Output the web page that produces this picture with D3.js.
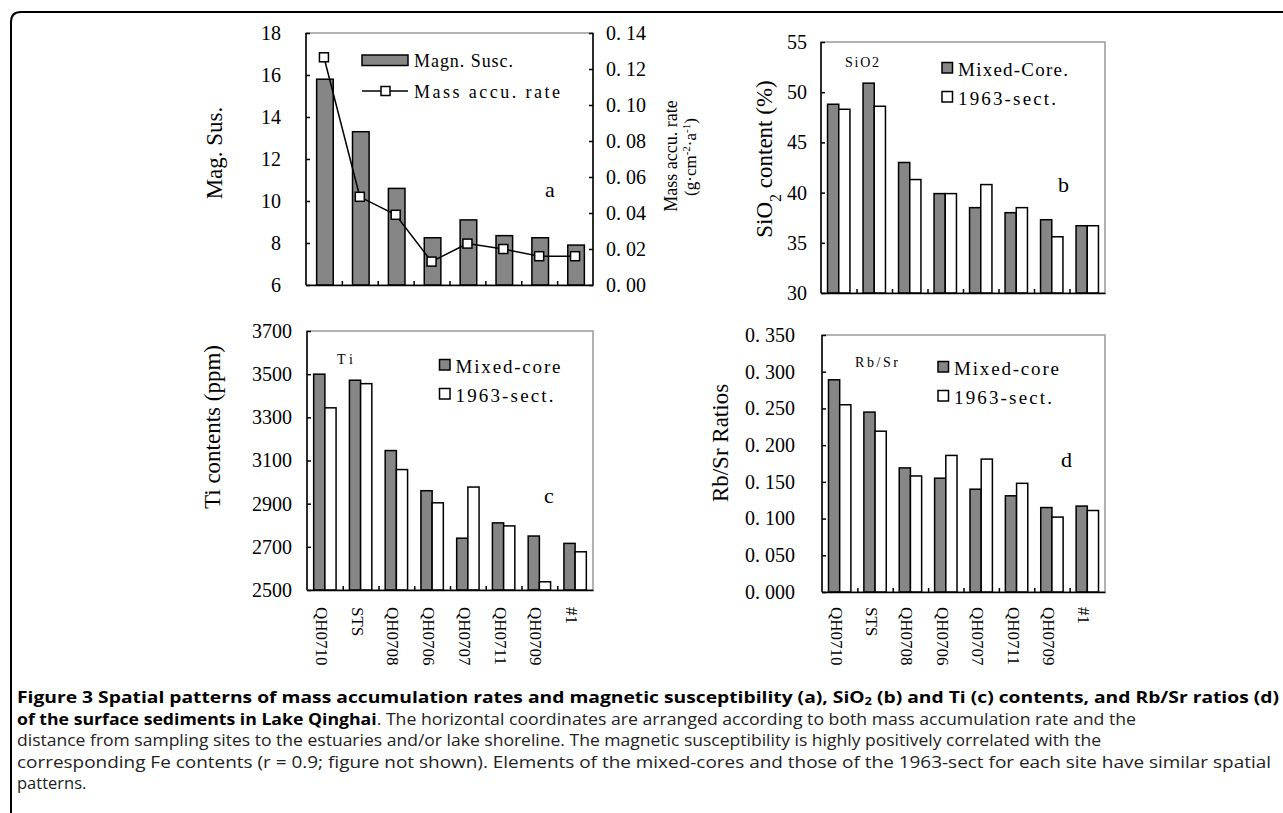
<!DOCTYPE html>
<html>
<head>
<meta charset="utf-8">
<script src="https://cdn.jsdelivr.net/npm/d3@7"></script>
<style>
  body { margin: 0; background: #fff; }
  svg { display: block; }
</style>
</head>
<body>
<div id="figure"></div>
<script>
// sampling sites, ordered by mass accumulation rate / distance to shore
const sites = ['QH0710', 'STS', 'QH0708', 'QH0706', 'QH0707', 'QH0711', 'QH0709', '#1'];

// panel a
const magSus = [15.8, 13.3, 10.6, 8.25, 9.1, 8.35, 8.25, 7.9];
const massAccuRate = [0.1265, 0.049, 0.039, 0.013, 0.023, 0.020, 0.016, 0.016];
const magSusTicks = [6, 8, 10, 12, 14, 16, 18];
const massRateTicks = [0, 0.02, 0.04, 0.06, 0.08, 0.10, 0.12, 0.14];

// panel b
const sio2Mixed = [48.8, 50.9, 43.0, 39.9, 38.5, 38.0, 37.3, 36.7];
const sio2Sect = [48.3, 48.6, 41.3, 39.9, 40.8, 38.5, 35.6, 36.7];
const sio2Ticks = [30, 35, 40, 45, 50, 55];

// panel c
const tiMixed = [3500, 3472, 3146, 2960, 2740, 2811, 2750, 2716];
const tiSect = [3344, 3456, 3058, 2904, 2977, 2797, 2538, 2677];
const tiTicks = [2500, 2700, 2900, 3100, 3300, 3500, 3700];

// panel d
const rbsrMixed = [0.289, 0.245, 0.169, 0.155, 0.140, 0.131, 0.115, 0.117];
const rbsrSect = [0.255, 0.219, 0.158, 0.186, 0.181, 0.148, 0.102, 0.111];
const rbsrTicks = [0, 0.05, 0.10, 0.15, 0.20, 0.25, 0.30, 0.35];

const serif = '"Liberation Serif", "DejaVu Serif", serif';
const sans = '"Open Sans", "Noto Sans", sans-serif';
const barFill = '#868686';

const svg = d3.select('#figure')
  .append('svg')
  .attr('width', 1283)
  .attr('height', 813);

// page frame
svg.append('path')
  .attr('d', 'M11,813 V22 Q11,12 21,12 H1283')
  .attr('fill', 'none')
  .attr('stroke', '#000')
  .attr('stroke-width', 2);

// "0.14" -> "0. 14", like the original axis font
const spacedFmt = digits => v => d3.format(`.${digits}f`)(v).replace('.', '. ');

// text in the wide, evenly spaced look of the original labels
function wideText(g, x, y, txt, size, len) {
  return g.append('text')
    .attr('x', x).attr('y', y)
    .attr('font-family', serif)
    .attr('font-size', size)
    .attr('textLength', len)
    .attr('lengthAdjust', 'spacing')
    .text(txt);
}

function makePanel(box, yDomain) {
  const g = svg.append('g');
  const x = d3.scaleBand().domain(sites).range([box.x0, box.x1]);
  const y = d3.scaleLinear().domain(yDomain).range([box.y1, box.y0]);

  g.append('rect')
    .attr('x', box.x0)
    .attr('y', box.y0)
    .attr('width', box.x1 - box.x0)
    .attr('height', box.y1 - box.y0)
    .attr('fill', 'none')
    .attr('stroke', '#999')
    .attr('stroke-width', 1.5);

  return { g, x, y, box };
}

function styleAxis(sel) {
  sel.selectAll('path, line').attr('stroke', '#000').attr('stroke-width', 1.5);
  sel.selectAll('text')
    .attr('font-family', serif)
    .attr('font-size', 20)
    .attr('fill', '#000');
}

function leftAxis(p, ticks, fmt, gap) {
  p.g.append('g')
    .attr('transform', `translate(${p.box.x0},0)`)
    .call(d3.axisLeft(p.y).tickValues(ticks).tickFormat(fmt)
      .tickSize(-4).tickSizeOuter(0).tickPadding(gap))
    .call(s => s.select('.domain').remove())
    .call(styleAxis);
  p.g.append('line')
    .attr('x1', p.box.x0).attr('x2', p.box.x0)
    .attr('y1', p.box.y0).attr('y2', p.box.y1)
    .attr('stroke', '#000').attr('stroke-width', 1.5);
}

function bottomAxis(p) {
  const xl = d3.scaleLinear().domain([0, sites.length]).range([p.box.x0, p.box.x1]);
  p.g.append('g')
    .attr('transform', `translate(0,${p.box.y1})`)
    .call(d3.axisBottom(xl).tickValues(d3.range(1, sites.length))
      .tickFormat('').tickSize(-4).tickSizeOuter(0))
    .call(styleAxis);
}

function siteLabels(p, top) {
  p.g.selectAll('.site')
    .data(sites)
    .enter()
    .append('text')
    .attr('class', 'site')
    .attr('transform', d => `translate(${p.x(d) + p.x.bandwidth() / 2 - 3},${top}) rotate(90)`)
    .attr('dy', '0.35em')
    .attr('font-family', serif)
    .attr('font-size', 17)
    .text(d => d);
}

function pairedBars(p, mixed, sect, barW) {
  const bw = p.x.bandwidth();
  const rows = sites.map((s, i) => ({ site: s, mixed: mixed[i], sect: sect[i] }));
  p.g.selectAll('.bar-mixed')
    .data(rows)
    .enter()
    .append('rect')
    .attr('class', 'bar-mixed')
    .attr('x', d => p.x(d.site) + bw / 2 - barW)
    .attr('y', d => p.y(d.mixed))
    .attr('width', barW)
    .attr('height', d => p.box.y1 - p.y(d.mixed))
    .attr('fill', barFill)
    .attr('stroke', '#000')
    .attr('stroke-width', 1.5);
  p.g.selectAll('.bar-sect')
    .data(rows)
    .enter()
    .append('rect')
    .attr('class', 'bar-sect')
    .attr('x', d => p.x(d.site) + bw / 2)
    .attr('y', d => p.y(d.sect))
    .attr('width', barW)
    .attr('height', d => p.box.y1 - p.y(d.sect))
    .attr('fill', '#fff')
    .attr('stroke', '#000')
    .attr('stroke-width', 1.5);
}

function squareLegend(p, x, y, names, lens) {
  names.forEach((name, i) => {
    const yy = y + i * 29;
    p.g.append('rect')
      .attr('x', x).attr('y', yy - 10.5)
      .attr('width', 10.5).attr('height', 10.5)
      .attr('fill', i === 0 ? barFill : '#fff')
      .attr('stroke', '#000').attr('stroke-width', 1.5);
    wideText(p.g, x + 16, yy + 3, name, 19, lens[i]);
  });
}

function yTitle(cx, cy, size) {
  return svg.append('text')
    .attr('transform', `translate(${cx},${cy}) rotate(-90)`)
    .attr('text-anchor', 'middle')
    .attr('dy', '0.35em')
    .attr('font-family', serif)
    .attr('font-size', size);
}

function tag(p, x, y, txt) {
  p.g.append('text')
    .attr('x', x).attr('y', y)
    .attr('font-family', serif)
    .attr('font-size', 22)
    .text(txt);
}

// ---------- panel a ----------
const pa = makePanel({ x0: 306, x1: 593, y0: 33, y1: 285 }, [6, 18]);
const yRate = d3.scaleLinear().domain([0, 0.14]).range([285, 33]);
const aBarW = 16.6;

pa.g.selectAll('.bar-mag')
  .data(sites.map((s, i) => ({ site: s, v: magSus[i] })))
  .enter()
  .append('rect')
  .attr('class', 'bar-mag')
  .attr('x', d => pa.x(d.site) + pa.x.bandwidth() / 2 - aBarW / 2 + 1)
  .attr('y', d => pa.y(d.v))
  .attr('width', aBarW)
  .attr('height', d => 285 - pa.y(d.v))
  .attr('fill', barFill)
  .attr('stroke', '#000')
  .attr('stroke-width', 1.5);

leftAxis(pa, magSusTicks, d3.format('d'), 25);
bottomAxis(pa);

pa.g.append('g')
  .attr('transform', 'translate(593,0)')
  .call(d3.axisRight(yRate).tickValues(massRateTicks).tickFormat(spacedFmt(2))
    .tickSize(-4).tickSizeOuter(0).tickPadding(13))
  .call(s => s.select('.domain').remove())
  .call(styleAxis);
pa.g.append('line')
  .attr('x1', 593).attr('x2', 593).attr('y1', 33).attr('y2', 285)
  .attr('stroke', '#000').attr('stroke-width', 1.5);

const rateLine = d3.line()
  .x((d, i) => pa.x(sites[i]) + pa.x.bandwidth() / 2)
  .y(d => yRate(d));

pa.g.append('path')
  .attr('d', rateLine(massAccuRate))
  .attr('fill', 'none')
  .attr('stroke', '#000')
  .attr('stroke-width', 1.5);

pa.g.selectAll('.pt')
  .data(massAccuRate)
  .enter()
  .append('rect')
  .attr('class', 'pt')
  .attr('x', (d, i) => pa.x(sites[i]) + pa.x.bandwidth() / 2 - 4.5)
  .attr('y', d => yRate(d) - 4.5)
  .attr('width', 9)
  .attr('height', 9)
  .attr('fill', '#fff')
  .attr('stroke', '#000')
  .attr('stroke-width', 1.5);

// legend a
pa.g.append('rect')
  .attr('x', 362).attr('y', 55).attr('width', 46).attr('height', 10.5)
  .attr('fill', barFill).attr('stroke', '#000').attr('stroke-width', 1.5);
wideText(pa.g, 414, 67, 'Magn. Susc.', 18, 99);
pa.g.append('line')
  .attr('x1', 362).attr('x2', 408).attr('y1', 91).attr('y2', 91)
  .attr('stroke', '#000').attr('stroke-width', 1.5);
pa.g.append('rect')
  .attr('x', 381).attr('y', 86.5).attr('width', 9).attr('height', 9)
  .attr('fill', '#fff').attr('stroke', '#000').attr('stroke-width', 1.5);
wideText(pa.g, 414, 98, 'Mass accu. rate', 18, 146);

tag(pa, 545, 197, 'a');
yTitle(214, 153, 23).text('Mag. Sus.');
yTitle(671, 156, 18).text('Mass accu. rate');
const unit = yTitle(690, 157, 17);
unit.append('tspan').text('(g·cm');
unit.append('tspan').attr('baseline-shift', 'super').attr('font-size', 11).text('-2');
unit.append('tspan').text('·a');
unit.append('tspan').attr('baseline-shift', 'super').attr('font-size', 11).text('-1');
unit.append('tspan').text(')');

// ---------- panel b ----------
const pb = makePanel({ x0: 821, x1: 1105, y0: 42, y1: 293 }, [30, 55]);
pairedBars(pb, sio2Mixed, sio2Sect, 11.2);
leftAxis(pb, sio2Ticks, d3.format('d'), 14);
bottomAxis(pb);
squareLegend(pb, 942, 73, ['Mixed-Core.', '1963-sect.'], [110, 98]);
wideText(pb.g, 845, 67, 'SiO2', 14, 34);
tag(pb, 1058, 192, 'b');
const sioTitle = yTitle(764, 159, 23);
sioTitle.append('tspan').text('SiO');
sioTitle.append('tspan').attr('baseline-shift', 'sub').attr('font-size', 16).text('2');
sioTitle.append('tspan').text(' content (%)');

// ---------- panel c ----------
const pc = makePanel({ x0: 307, x1: 593, y0: 331, y1: 590 }, [2500, 3700]);
pairedBars(pc, tiMixed, tiSect, 11.2);
leftAxis(pc, tiTicks, d3.format('d'), 15);
bottomAxis(pc);
siteLabels(pc, 607);
squareLegend(pc, 439.5, 370, ['Mixed-core', '1963-sect.'], [105, 98]);
wideText(pc.g, 337, 364, 'Ti', 14, 16);
tag(pc, 544, 503, 'c');
yTitle(212, 427, 23).text('Ti contents (ppm)');

// ---------- panel d ----------
const pd = makePanel({ x0: 822, x1: 1105, y0: 335, y1: 592 }, [0, 0.35]);
pairedBars(pd, rbsrMixed, rbsrSect, 11.2);
leftAxis(pd, rbsrTicks, spacedFmt(3), 27);
bottomAxis(pd);
siteLabels(pd, 607);
squareLegend(pd, 938, 372, ['Mixed-core', '1963-sect.'], [105, 98]);
wideText(pd.g, 855, 367, 'Rb/Sr', 14, 43);
tag(pd, 1061, 467, 'd');
yTitle(720, 443, 23).text('Rb/Sr Ratios');

// ---------- caption ----------
const capX = 17;
const cap = svg.append('g')
  .attr('font-family', sans)
  .attr('font-size', 16.5)
  .attr('fill', '#222');

const l1 = cap.append('text')
  .attr('x', capX).attr('y', 703)
  .attr('textLength', 1279 - capX).attr('lengthAdjust', 'spacingAndGlyphs')
  .attr('font-weight', 'bold').attr('fill', '#000');
l1.append('tspan').text('Figure 3 Spatial patterns of mass accumulation rates and magnetic susceptibility (a), SiO');
l1.append('tspan').attr('dy', 2).attr('font-size', 11).text('2');
l1.append('tspan').attr('dy', -2).text(' (b) and Ti (c) contents, and Rb/Sr ratios (d)');

const l2 = cap.append('text')
  .attr('x', capX).attr('y', 725)
  .attr('textLength', 1136 - capX).attr('lengthAdjust', 'spacingAndGlyphs');
l2.append('tspan').attr('font-weight', 'bold').attr('fill', '#000').text('of the surface sediments in Lake Qinghai');
l2.append('tspan').text('. The horizontal coordinates are arranged according to both mass accumulation rate and the');

cap.append('text')
  .attr('x', capX).attr('y', 746)
  .attr('textLength', 1101 - capX).attr('lengthAdjust', 'spacingAndGlyphs')
  .text('distance from sampling sites to the estuaries and/or lake shoreline. The magnetic susceptibility is highly positively correlated with the');

cap.append('text')
  .attr('x', capX).attr('y', 768)
  .attr('textLength', 1271 - capX).attr('lengthAdjust', 'spacingAndGlyphs')
  .text('corresponding Fe contents (r = 0.9; figure not shown). Elements of the mixed-cores and those of the 1963-sect for each site have similar spatial');

cap.append('text')
  .attr('x', capX).attr('y', 789)
  .text('patterns.');
</script>
</body>
</html>
